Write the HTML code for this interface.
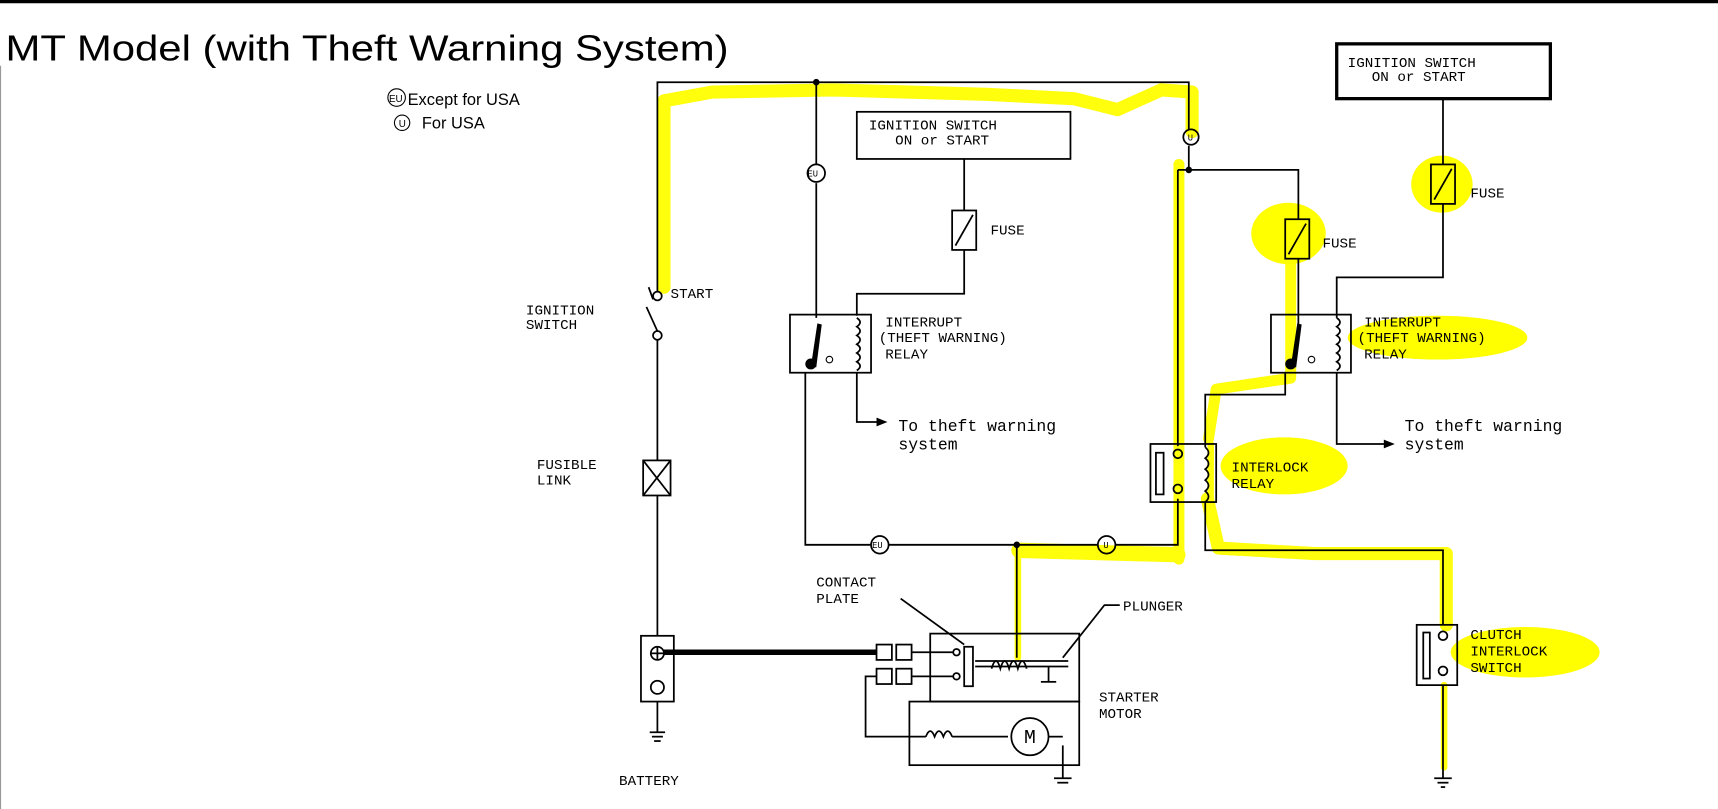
<!DOCTYPE html>
<html><head><meta charset="utf-8"><style>
html,body{margin:0;padding:0;background:#fff;}
svg{display:block}
text{font-family:"Liberation Mono",monospace;fill:#000;}
.t{font-family:"Liberation Sans",sans-serif;}
</style></head><body>
<svg width="1718" height="809" viewBox="0 0 1568 738" preserveAspectRatio="none" xmlns="http://www.w3.org/2000/svg">
<rect width="1568" height="738" fill="#fff"/>
<line x1="0" y1="1.5" x2="1568" y2="1.5" stroke="#000" stroke-width="3"/>
<line x1="0.5" y1="60" x2="0.5" y2="738" stroke="#999" stroke-width="1"/>
<!-- yellow highlights -->
<g fill="none" stroke="#ffff00" stroke-linecap="round" stroke-linejoin="round" opacity="0.95">
<polyline stroke-width="12" points="606,262 606,92 650,84 760,82 900,86 980,90 1020,100 1060,82 1088,84 1088,120"/>
<polyline stroke-width="10" points="1076,150 1076,400 1076,510"/>
<polyline stroke-width="14" points="930,502 1000,504 1075,506"/>
<polyline stroke-width="6" points="929,500 929,600"/>
<polyline stroke-width="12" points="1102,455 1112,500 1200,505 1320,505 1320,570"/>
<polyline stroke-width="6" points="1318,625 1318,700"/>
<polyline stroke-width="10" points="1178,240 1178,345 1110,355 1103,400"/>
<polyline stroke-width="6" points="1105,405 1105,455"/>
</g>
<g fill="#ffff00">
<ellipse cx="1176" cy="213" rx="34" ry="28"/>
<ellipse cx="1316" cy="168" rx="28" ry="26"/>
<ellipse cx="1312" cy="308" rx="82" ry="20"/>
<ellipse cx="1172" cy="425" rx="58" ry="26"/>
<ellipse cx="1392" cy="595" rx="68" ry="23"/>
</g>
<!-- title -->
<text class="t" x="5" y="55" font-size="33" textLength="660" lengthAdjust="spacingAndGlyphs">MT Model (with Theft Warning System)</text>
<circle cx="362" cy="89" r="8" fill="none" stroke="#000"/><text class="t" x="355" y="93" font-size="9">EU</text>
<text class="t" x="372" y="96" font-size="15">Except for USA</text>
<circle cx="367" cy="112" r="7" fill="none" stroke="#000"/><text class="t" x="364" y="116" font-size="9">U</text>
<text class="t" x="385" y="117" font-size="15">For USA</text>
<g fill="none" stroke="#000" stroke-width="1.6">
<polyline points="600,266 600,75 1085,75 1085,118"/>
<line x1="745" y1="75" x2="745" y2="150"/><line x1="745" y1="167" x2="745" y2="290"/>
<line x1="1085" y1="133" x2="1085" y2="155"/>
<polyline points="1075,155 1185,155 1185,200"/>
<line x1="1075" y1="155" x2="1075" y2="407"/>
<line x1="1185" y1="236" x2="1185" y2="298"/>
<rect x="782" y="102" width="195" height="43"/>
<line x1="880" y1="145" x2="880" y2="192"/>
<rect x="869" y="192" width="22" height="36"/><line x1="872" y1="224" x2="888" y2="196"/>
<polyline points="880,228 880,268 782,268 782,288"/>
<rect x="721" y="287" width="74" height="53"/>
<path d="M782,290 q6,4 0,8 q6,4 0,8 q6,4 0,8 q6,4 0,8 q6,4 0,8 q6,4 0,8"/>
<polyline points="782,340 782,385 800,385"/>
<polyline points="735,340 735,497 795,497"/><line x1="811" y1="497" x2="1002" y2="497"/>
<polyline points="1018,497 1075,497 1075,455"/>
<circle cx="803" cy="497" r="8"/><circle cx="1010" cy="497" r="8"/>
<circle cx="745" cy="158" r="8"/><circle cx="1087" cy="125" r="7"/>
<rect x="1050" y="405" width="60" height="53"/>
<rect x="1055" y="413" width="7" height="38"/>
<circle cx="1075" cy="414" r="4"/><circle cx="1075" cy="446" r="4"/>
<path d="M1100,408 q6,5 0,10 q6,5 0,10 q6,5 0,10 q6,5 0,10 q6,5 0,10"/>
<polyline points="1100,458 1100,502 1317,502 1317,570"/>
<rect x="1160" y="287" width="73" height="53"/>
<path d="M1220,290 q6,4 0,8 q6,4 0,8 q6,4 0,8 q6,4 0,8 q6,4 0,8 q6,4 0,8"/>
<polyline points="1173,340 1173,360 1100,360 1100,408"/>
<polyline points="1220,340 1220,405 1265,405"/>
<rect x="1220" y="40" width="195" height="50" stroke-width="3"/>
<line x1="1317" y1="90" x2="1317" y2="150"/>
<rect x="1306" y="150" width="22" height="36"/><line x1="1309" y1="182" x2="1325" y2="154"/>
<polyline points="1317,186 1317,253 1220,253 1220,290"/>
<rect x="1173" y="200" width="22" height="36"/><line x1="1176" y1="232" x2="1192" y2="204"/>
<rect x="1293" y="570" width="37" height="55"/>
<rect x="1299" y="577" width="6" height="42"/>
<circle cx="1317" cy="580" r="4"/><circle cx="1317" cy="612" r="4"/>
<line x1="1317" y1="625" x2="1317" y2="710"/>
<line x1="1309" y1="710" x2="1325" y2="710"/><line x1="1312" y1="714" x2="1322" y2="714"/><line x1="1315" y1="718" x2="1319" y2="718"/>
<circle cx="600" cy="270" r="4"/><line x1="596" y1="273" x2="592" y2="262"/>
<line x1="590" y1="280" x2="600" y2="302"/>
<circle cx="600" cy="306" r="4"/>
<line x1="600" y1="310" x2="600" y2="420"/>
<rect x="587" y="420" width="25" height="32"/><line x1="587" y1="420" x2="612" y2="452"/><line x1="612" y1="420" x2="587" y2="452"/>
<line x1="600" y1="452" x2="600" y2="580"/>
<rect x="585" y="580" width="30" height="60"/>
<circle cx="600" cy="596" r="6"/><line x1="594" y1="596" x2="606" y2="596"/><line x1="600" y1="590" x2="600" y2="602"/>
<circle cx="600" cy="627" r="6"/>
<line x1="600" y1="640" x2="600" y2="668"/>
<line x1="593" y1="668" x2="607" y2="668"/><line x1="595" y1="672" x2="605" y2="672"/><line x1="597" y1="676" x2="603" y2="676"/>
<line x1="606" y1="595" x2="800" y2="595" stroke-width="5"/>
<rect x="849" y="578" width="136" height="62"/>
<rect x="830" y="640" width="155" height="58"/>
<rect x="800" y="588" width="14" height="14"/><rect x="818" y="588" width="14" height="14"/>
<rect x="800" y="610" width="14" height="14"/><rect x="818" y="610" width="14" height="14"/>
<line x1="832" y1="595" x2="870" y2="595"/><circle cx="873" cy="595" r="3"/>
<line x1="832" y1="617" x2="870" y2="617"/><circle cx="873" cy="617" r="3"/>
<rect x="880" y="590" width="8" height="36"/>
<line x1="890" y1="603" x2="975" y2="603"/><line x1="890" y1="608" x2="975" y2="608"/>
<path d="M905,610 q4,-14 8,0 q4,-14 8,0 q4,-14 8,0 q4,-14 8,0"/>
<line x1="928" y1="497" x2="928" y2="600"/>
<line x1="957" y1="608" x2="957" y2="622"/><line x1="950" y1="622" x2="964" y2="622"/>
<polyline points="800,617 790,617 790,672 845,672"/>
<path d="M845,672 q4,-10 8,0 q4,-10 8,0 q4,-10 8,0"/>
<line x1="869" y1="672" x2="920" y2="672"/>
<circle cx="940" cy="672" r="17"/><line x1="957" y1="672" x2="970" y2="672"/>
<polyline points="970,680 970,710"/>
<line x1="962" y1="710" x2="978" y2="710"/><line x1="965" y1="714" x2="975" y2="714"/>
<polyline points="822,546 880,588"/><polyline points="1022,552 1008,552 970,600"/>
</g>
<g fill="#000">
<path d="M740,335 l6,-40 l4,1 l-5,39 z"/><circle cx="740" cy="332" r="5"/>
<path d="M1178,335 l6,-40 l4,1 l-5,39 z"/><circle cx="1178" cy="332" r="5"/>
<circle cx="745" cy="75" r="3"/><circle cx="1085" cy="155" r="3"/><circle cx="928" cy="497" r="3"/>
<path d="M800,381 l10,4 l-10,4z"/><path d="M1263,401 l10,4 l-10,4z"/>
</g>
<circle cx="757" cy="328" r="3" fill="none" stroke="#000"/><circle cx="1197" cy="328" r="3" fill="none" stroke="#000"/>
<text x="940" y="672" font-size="18" text-anchor="middle" dy="6">M</text>
<g font-size="13">
<text x="737" y="161" font-size="8">EU</text><text x="796" y="500" font-size="8">EU</text>
<text x="1007" y="500" font-size="8">U</text><text x="1084" y="128" font-size="8">U</text>
<text x="793" y="118">IGNITION SWITCH</text><text x="817" y="132">ON or START</text>
<text x="1230" y="61">IGNITION SWITCH</text><text x="1252" y="74">ON or START</text>
<text x="904" y="214">FUSE</text><text x="1207" y="226">FUSE</text><text x="1342" y="180">FUSE</text>
<text x="612" y="272">START</text>
<text x="480" y="287">IGNITION</text><text x="480" y="300">SWITCH</text>
<text x="808" y="298">INTERRUPT</text><text x="802" y="312">(THEFT WARNING)</text><text x="808" y="327">RELAY</text>
<text x="1245" y="298">INTERRUPT</text><text x="1239" y="312">(THEFT WARNING)</text><text x="1245" y="327">RELAY</text>
<text x="820" y="393" font-size="15">To theft warning</text><text x="820" y="410" font-size="15">system</text>
<text x="1282" y="393" font-size="15">To theft warning</text><text x="1282" y="410" font-size="15">system</text>
<text x="1124" y="430">INTERLOCK</text><text x="1124" y="445">RELAY</text>
<text x="490" y="428">FUSIBLE</text><text x="490" y="442">LINK</text>
<text x="745" y="535">CONTACT</text><text x="745" y="550">PLATE</text>
<text x="1025" y="557">PLUNGER</text>
<text x="1003" y="640">STARTER</text><text x="1003" y="655">MOTOR</text>
<text x="1342" y="583">CLUTCH</text><text x="1342" y="598">INTERLOCK</text><text x="1342" y="613">SWITCH</text>
<text x="565" y="716">BATTERY</text>
</g>
</svg>
</body></html>
